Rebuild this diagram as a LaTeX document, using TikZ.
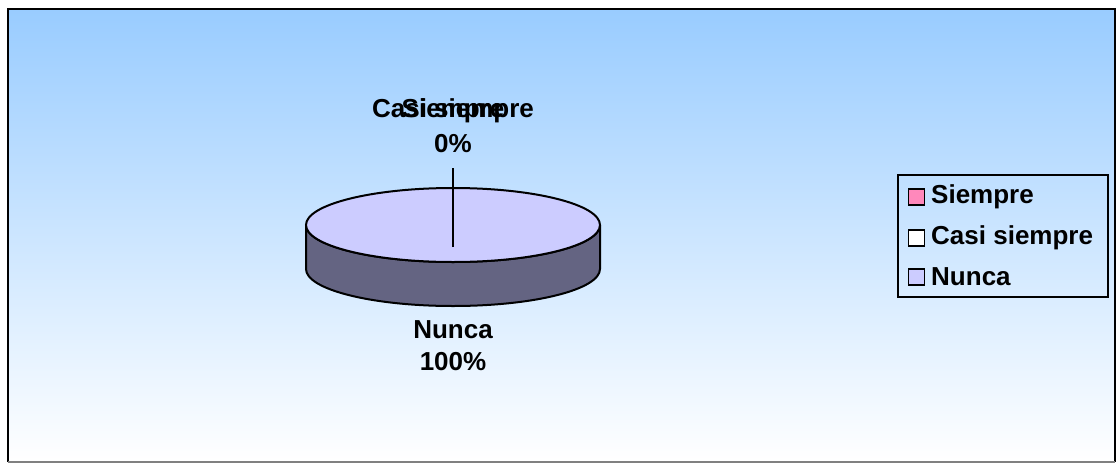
\documentclass[tikz,border=0pt]{standalone}
\usepackage{fontspec}
\setmainfont{Liberation Sans}
\usetikzlibrary{shapes.geometric}
\begin{document}
\begin{tikzpicture}[x=1pt,y=-1pt,
  lbl/.style={font=\fontsize{26}{28}\selectfont\bfseries, inner sep=0pt, align=center},
  key/.style={draw=black, line width=1.6pt, minimum size=16pt, inner sep=0pt},
  keytext/.style={font=\fontsize{26}{28}\selectfont\bfseries, inner sep=0pt, anchor=west}]
\useasboundingbox (0,0) rectangle (1118,463);
\fill[white] (0,0) rectangle (1118,463);
% background panel
\shade[top color={rgb,255:red,153;green,204;blue,255}, bottom color=white] (8,9) rectangle (1115,462);
\draw[black, line width=2.5pt] (8,462) -- (8,9) -- (1115,9) -- (1115,462);
\draw[gray, line width=1.2pt] (8,462) -- (1115,462);
% pie side
\coordinate (pl) at (306,225);
\coordinate (pr) at (600,225);
\fill[fill={rgb,255:red,100;green,100;blue,130}, draw=black, line width=2pt]
  (pl) -- (306,269) arc[start angle=180, end angle=0, x radius=147, y radius=37]
  -- (pr) arc[start angle=0, end angle=180, x radius=147, y radius=37] -- cycle;
% pie top
\node[draw=black, line width=2pt, fill={rgb,255:red,204;green,204;blue,255}, ellipse, inner sep=0pt, minimum width=294pt, minimum height=74pt] (top) at (453,225) {};
% leader line
\coordinate (lc) at (453,247);
\coordinate (lt) at (453,168);
\draw[black, line width=2pt] (lc) -- (lt);
% data labels
\node[lbl] (l1) at (453,111) {Casi siempre};
\node[lbl] (l2) at (453,111) {Siempre};
\node[lbl] (l3) at (453,144) {0\%};
\node[lbl] (l4) at (453,330) {Nunca};
\node[lbl] (l5) at (453,362) {100\%};
% legend
\node[draw=black, line width=2pt, minimum width=210pt, minimum height=122pt, inner sep=0pt] (leg) at (1003,236) {};
\node[key, fill={rgb,255:red,255;green,136;blue,187}] (k1) at (916.5,197) {};
\node[key, fill=white] (k2) at (916.5,238) {};
\node[key, fill={rgb,255:red,204;green,204;blue,255}] (k3) at (916.5,277) {};
\node[keytext] (t1) at (931,197) {Siempre};
\node[keytext] (t2) at (931,238) {Casi siempre};
\node[keytext] (t3) at (931,277) {Nunca};
\end{tikzpicture}
\end{document}
